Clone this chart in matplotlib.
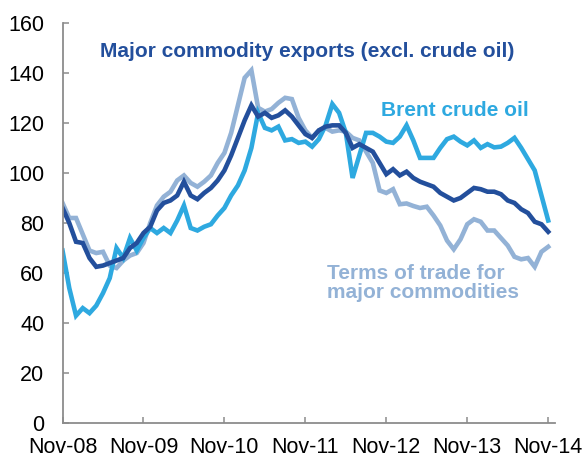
import matplotlib
matplotlib.use("Agg")
import matplotlib.pyplot as plt

# Monthly index values, Nov-08 to Nov-14 (73 months)
exports = [86, 80, 72.5, 72, 66, 62.5, 63, 64, 65, 66, 70, 72, 76, 78.5, 85, 88,
           89, 91, 96.5, 91, 89.5, 92, 94, 97, 101, 107, 114, 121, 127, 122.5, 124,
           122, 123, 125, 122.5, 119, 115.5, 114, 117, 118.5, 119, 119, 116, 110,
           111.5, 110, 108.5, 104, 99.5, 101.5, 99, 100.5, 98, 96.5, 95.5, 94.5, 92,
           90.5, 89, 90, 92, 94, 93.5, 92.5, 92.5, 91.5, 89, 88, 85.5, 84, 80.5,
           79.5, 76.5]
brent = [69, 54, 43, 46, 44, 47, 52, 58, 70, 66, 74, 69, 74, 78, 76, 78, 76, 81,
         87, 78, 77, 78.5, 79.5, 83, 86, 91, 95, 101, 110, 124, 118, 117, 118.5,
         113, 113.5, 112, 112.5, 110.5, 113.5, 119, 127.5, 124, 116, 98, 107, 116,
         116, 114.5, 112.5, 112, 114.5, 119, 113, 106, 106, 106, 110, 113.5, 114.5,
         112.5, 111, 113, 110, 111.5, 110.2, 110.5, 112, 114, 110, 105.5, 101, 91, 81]
terms = [88, 82, 82, 75.5, 69, 68, 68.5, 63, 62, 65, 67, 68, 72, 80, 87, 90.5,
         92.5, 97, 99, 96, 94.5, 96.5, 99, 104, 108, 116, 127, 138, 141, 126,
         124.5, 125.5, 128, 130, 129.5, 122, 117, 114, 117, 118, 116.5, 117, 116.5,
         114, 113, 108.5, 104, 93, 92, 93.5, 87.5, 87.8, 86.8, 86, 86.5, 83, 79, 73,
         69.5, 73.5, 79.5, 81.5, 80.5, 77, 77, 74, 71, 66.5, 65.5, 66, 62.5, 68.5, 70.5]
tick_labels = ["Nov-08", "Nov-09", "Nov-10", "Nov-11", "Nov-12", "Nov-13", "Nov-14"]

dark = "#234F9C"
bright = "#2EA9E0"
pale = "#93B2D6"
axis_grey = "#8C8C8C"

plt.rcParams["font.family"] = ["Liberation Sans", "DejaVu Sans"]

fig = plt.figure(figsize=(5.86, 4.58), dpi=100)
ax = fig.add_axes([0.1067, 0.0758, 0.947 - 0.1067, 0.9504 - 0.0758])

months = list(range(len(exports)))
ax.plot(months, terms, color=pale, lw=3.3, solid_joinstyle="miter")
ax.plot(months, brent, color=bright, lw=3.3, solid_joinstyle="miter")
ax.plot(months, exports, color=dark, lw=3.3, solid_joinstyle="miter")

ax.set_xlim(0, 73)
ax.set_ylim(0, 160)
ax.set_xticks(range(0, 73, 12))
ax.set_xticklabels(tick_labels)
ax.set_yticks(range(0, 161, 20))

for s in ["top", "right"]:
    ax.spines[s].set_visible(False)
for s in ["left", "bottom"]:
    ax.spines[s].set_color(axis_grey)
    ax.spines[s].set_linewidth(1.3)
ax.tick_params(axis="both", direction="in", length=4.5, width=1.1,
               color=axis_grey, labelsize=15.5, labelcolor="black")
ax.tick_params(axis="x", pad=10)
ax.tick_params(axis="y", pad=13)

ax.text(0.496, 0.928, "Major commodity exports (excl. crude oil)", transform=ax.transAxes,
        ha="center", va="center", color=dark, fontsize=15, fontweight="bold")
ax.text(0.797, 0.782, "Brent crude oil", transform=ax.transAxes,
        ha="center", va="center", color=bright, fontsize=15, fontweight="bold")
ax.text(0.537, 0.351, "Terms of trade for\nmajor commodities", transform=ax.transAxes,
        ha="left", va="center", color=pale, fontsize=15, fontweight="bold",
        linespacing=1.0)

fig.savefig("out.png", dpi=100)
